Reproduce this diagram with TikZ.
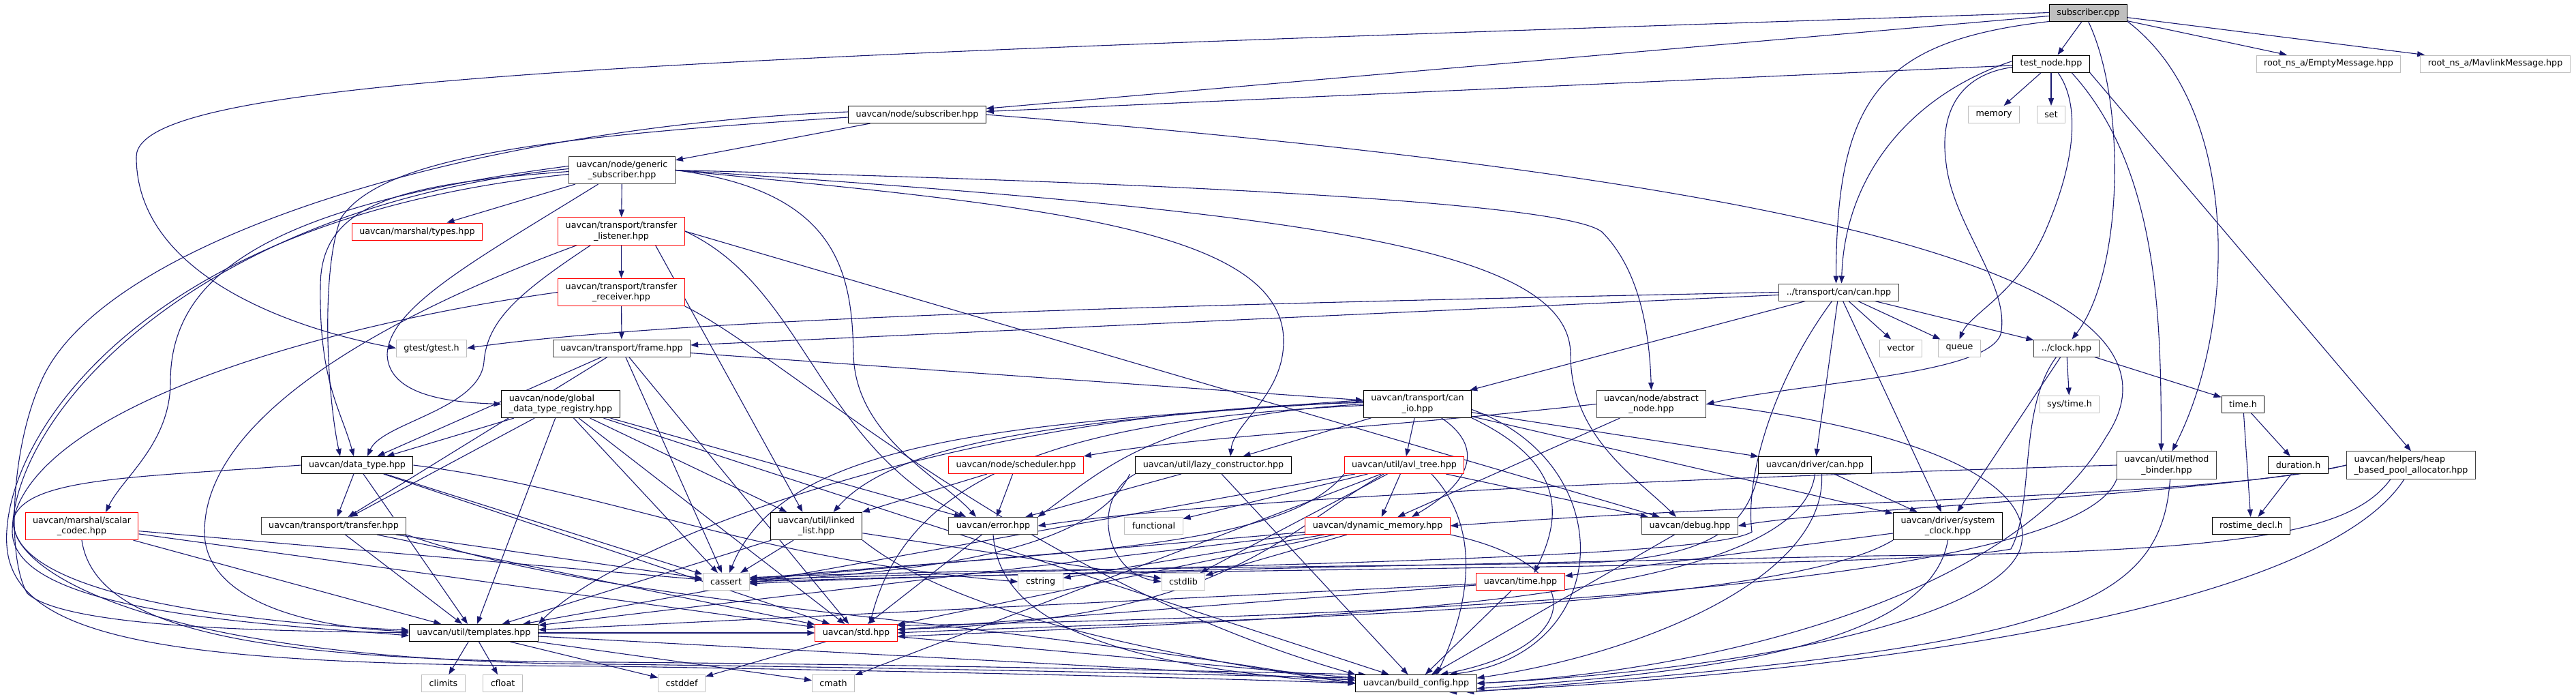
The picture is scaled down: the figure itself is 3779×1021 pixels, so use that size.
\documentclass[tikz,border=0pt]{standalone}
\usepackage{fontspec}
\setmainfont{DejaVu Sans}
\usetikzlibrary{arrows.meta}
\definecolor{edgeblue}{HTML}{191970}
\definecolor{docframe}{HTML}{404040}
\definecolor{extframe}{HTML}{BFBFBF}
\pgfdeclarelayer{background}
\pgfsetlayers{background,main}

\begin{document}
\begin{tikzpicture}[x=1pt, y=-1pt,
    file/.style={rectangle, draw=black, fill=white, line width=1pt, inner xsep=11pt, inner ysep=6pt, minimum height=25pt, align=center, font=\fontsize{12.7}{15.5}\selectfont},
    docfile/.style={file, draw=docframe},
    cutfile/.style={file, draw=red},
    sysfile/.style={file, draw=extframe},
    rootfile/.style={file, fill=extframe},
    arrow/.style={-{Triangle[length=11pt, width=8pt]}, draw=edgeblue, line width=1.1pt}
]
\useasboundingbox (0,0) rectangle (3779,1021);

% files
\node[rootfile] (cpp) at (3063.5,18.5) {subscriber.cpp};
\node[file] (testnode) at (3009,93.5) {test\_node.hpp};
\node[sysfile] (emptymsg) at (3416,93.5) {root\_ns\_a/EmptyMessage.hpp};
\node[sysfile] (mavlinkmsg) at (3660.5,93.5) {root\_ns\_a/MavlinkMessage.hpp};
\node[sysfile] (memory) at (2925,168) {memory};
\node[sysfile] (set) at (3009,168) {set};
\node[file] (subhpp) at (1345.5,168) {uavcan/node/subscriber.hpp};
\node[docfile] (gensub) at (912.5,249.5) {uavcan/node/generic\\\_subscriber.hpp};
\node[cutfile] (types) at (612,339.5) {uavcan/marshal/types.hpp};
\node[cutfile] (listener) at (911.5,339) {uavcan/transport/transfer\\\_listener.hpp};
\node[cutfile] (receiver) at (911.5,428.5) {uavcan/transport/transfer\\\_receiver.hpp};
\node[docfile] (frame) at (912,510.5) {uavcan/transport/frame.hpp};
\node[sysfile] (gtest) at (633,510.5) {gtest/gtest.h};
\node[docfile] (canhpp) at (2697.5,428.5) {../transport/can/can.hpp};
\node[sysfile] (vector) at (2788.5,510.5) {vector};
\node[sysfile] (queue) at (2874.5,510.5) {queue};
\node[docfile] (clock) at (3031.5,510.5) {../clock.hpp};
\node[sysfile] (systime) at (3036,592.5) {sys/time.h};
\node[file] (timeh) at (3290.5,592.5) {time.h};
\node[file] (duration) at (3371.5,682) {duration.h};
\node[file] (rostime) at (3302.5,771) {rostime\_decl.h};
\node[docfile] (methodbinder) at (3178.5,682) {uavcan/util/method\\\_binder.hpp};
\node[docfile, align=left] (heapalloc) at (3537,682) {uavcan/helpers/heap\\\_based\_pool\_allocator.hpp};
\node[file] (sysclock) at (2857.5,771.5) {uavcan/driver/system\\\_clock.hpp};
\node[file, align=left] (globalreg) at (822.5,592.5) {uavcan/node/global\\\_data\_type\_registry.hpp};
\node[file] (datatype) at (524,682) {uavcan/data\_type.hpp};
\node[cutfile] (scalarcodec) at (120,771.5) {uavcan/marshal/scalar\\\_codec.hpp};
\node[docfile] (transfer) at (489.5,771) {uavcan/transport/transfer.hpp};
\node[file] (templates) at (695,928) {uavcan/util/templates.hpp};
\node[sysfile] (climits) at (650.5,1002) {climits};
\node[sysfile] (cfloat) at (737.5,1002) {cfloat};
\node[file] (linkedlist) at (1197.5,771.5) {uavcan/util/linked\\\_list.hpp};
\node[docfile] (error) at (1457,771) {uavcan/error.hpp};
\node[cutfile] (scheduler) at (1490.5,682) {uavcan/node/scheduler.hpp};
\node[file] (lazyctor) at (1780,682) {uavcan/util/lazy\_constructor.hpp};
\node[sysfile] (functional) at (1692.5,771) {functional};
\node[sysfile] (cassert) at (1065,853) {cassert};
\node[sysfile] (cstring) at (1526.5,853) {cstring};
\node[sysfile] (cstdlib) at (1736,853) {cstdlib};
\node[cutfile] (std) at (1256,928) {uavcan/std.hpp};
\node[sysfile] (cstddef) at (1000,1002) {cstddef};
\node[sysfile] (cmath) at (1222.5,1002) {cmath};
\node[file] (canio) at (2079.5,592.5) {uavcan/transport/can\\\_io.hpp};
\node[docfile] (abstractnode) at (2422.5,592.5) {uavcan/node/abstract\\\_node.hpp};
\node[cutfile] (avltree) at (2060,682) {uavcan/util/avl\_tree.hpp};
\node[file] (drivercan) at (2662.5,682) {uavcan/driver/can.hpp};
\node[cutfile] (dynmem) at (2021,771) {uavcan/dynamic\_memory.hpp};
\node[docfile] (debug) at (2479,771) {uavcan/debug.hpp};
\node[cutfile] (timehpp) at (2230.5,853) {uavcan/time.hpp};
\node[file] (buildcfg) at (2077.5,1002) {uavcan/build\_config.hpp};

\begin{pgfonlayer}{background}
% subscriber.cpp
\draw[arrow] (cpp.west) .. controls (1000,85) and (200,110) .. (200,230) .. controls (200,400) and (420,480) .. (gtest.west);
\draw[arrow] (cpp) -- (subhpp);
\draw[arrow] (cpp.south west) .. controls (2760,60) and (2694,140) .. ([xshift=-4pt]canhpp.north);
\draw[arrow] (cpp) -- (testnode);
\draw[arrow] (cpp.south) .. controls (3120,150) and (3115,400) .. ([xshift=8pt]clock.north);
\draw[arrow] (cpp.south east) .. controls (3290,160) and (3280,480) .. ([xshift=8pt]methodbinder.north);
\draw[arrow] (cpp) -- (emptymsg);
\draw[arrow] (cpp) -- (mavlinkmsg);

% test_node.hpp
\draw[arrow] (testnode) -- (subhpp);
\draw[arrow] ([yshift=4pt]testnode.west) .. controls (2800,140) and (2706,260) .. ([xshift=4pt]canhpp.north);
\draw[arrow] ([yshift=-5pt]testnode.west) .. controls (2870,110) and (2845,170) .. (2855,240) .. controls (2865,330) and (2950,420) .. (2935,490) .. controls (2915,550) and (2650,560) .. (abstractnode.east);
\draw[arrow] (testnode) -- (memory);
\draw[arrow] (testnode) -- (set);
\draw[arrow] ([xshift=10pt]testnode.south) .. controls (3050,150) and (3048,230) .. (3000,340) .. controls (2960,430) and (2890,460) .. (queue.north);
\draw[arrow] ([xshift=30pt]testnode.south) .. controls (3170,250) and (3170,480) .. ([xshift=-8pt]methodbinder.north);
\draw[arrow] (testnode.south east) -- (heapalloc.north);

% uavcan/node/subscriber.hpp
\draw[arrow] (subhpp) -- (gensub);
\draw[arrow] (subhpp.east) .. controls (2600,260) and (3250,400) .. (3090,640) .. controls (2950,880) and (2500,985) .. (buildcfg.east);
\draw[arrow] ([yshift=4pt]subhpp.west) .. controls (700,185) and (150,350) .. (60,560) .. controls (15,660) and (10,820) .. (40,870) .. controls (100,925) and (450,925) .. (templates.west);
\draw[arrow] ([yshift=-4pt]subhpp.west) .. controls (800,200) and (560,230) .. (500,320) .. controls (470,400) and (480,580) .. ([xshift=-25pt]datatype.north);

% uavcan/node/generic_subscriber.hpp
\draw[arrow] (gensub) -- (types);
\draw[arrow] (gensub) -- (listener);
\draw[arrow] ([yshift=6pt]gensub.west) .. controls (400,300) and (250,400) .. (250,560) .. controls (250,650) and (180,700) .. ([xshift=35pt]scalarcodec.north);
\draw[arrow] ([yshift=-2pt]gensub.west) .. controls (580,270) and (470,300) .. (470,420) .. controls (468,560) and (500,600) .. ([xshift=-5pt]datatype.north);
\draw[arrow] ([xshift=-35pt]gensub.south) .. controls (700,380) and (570,450) .. (568,520) .. controls (570,580) and (660,590) .. (globalreg.west);
\draw[arrow] ([yshift=2pt]gensub.west) .. controls (300,300) and (20,600) .. (18,780) .. controls (20,900) and (400,915) .. ([yshift=-4pt]templates.west);
\draw[arrow] ([yshift=-6pt]gensub.west) .. controls (200,320) and (0,650) .. (10,800) .. controls (20,950) and (300,975) .. (900,977) .. controls (1400,985) and (1800,995) .. (buildcfg.west);
\draw[arrow] (gensub.east) .. controls (1230,280) and (1250,400) .. (1252,520) .. controls (1255,640) and (1380,700) .. ([xshift=-25pt]error.north);
\draw[arrow] (gensub.east) .. controls (1500,300) and (1883,330) .. (1883,500) .. controls (1883,580) and (1810,620) .. ([xshift=25pt]lazyctor.north);
\draw[arrow] (gensub.east) .. controls (1800,270) and (2300,300) .. (2350,340) .. controls (2410,400) and (2420,500) .. (abstractnode.north);
\draw[arrow] (gensub.east) .. controls (1900,310) and (2304,360) .. (2304,520) .. controls (2304,640) and (2400,700) .. ([xshift=-20pt]debug.north);

% uavcan/transport/transfer_listener.hpp
\draw[arrow] (listener) -- (receiver);
\draw[arrow] (listener.east) .. controls (1180,420) and (1200,650) .. ([xshift=-40pt]error.north);
\draw[arrow] ([xshift=50pt]listener.south) -- ([xshift=-20pt]linkedlist.north);
\draw[arrow] (listener.east) -- (debug);
\draw[arrow] ([xshift=-45pt]listener.south) .. controls (760,430) and (715,470) .. (710,530) .. controls (705,600) and (560,620) .. ([xshift=15pt]datatype.north);
\draw[arrow] ([xshift=-65pt]listener.south) .. controls (600,450) and (300,600) .. (300,780) .. controls (300,880) and (450,920) .. ([yshift=2pt]templates.west);

% uavcan/transport/transfer_receiver.hpp
\draw[arrow] (receiver) -- (frame);
\draw[arrow] (receiver.south east) .. controls (1150,520) and (1500,850) .. (buildcfg.north west);
\draw[arrow] (receiver.west) .. controls (450,480) and (60,600) .. (20,760) .. controls (10,880) and (400,915) .. ([yshift=4pt]templates.west);

% uavcan/transport/frame.hpp
\draw[arrow] (frame) -- (transfer);
\draw[arrow] (frame) -- (datatype);
\draw[arrow] (frame) -- (canio);
\draw[arrow] (frame) -- (cassert);
\draw[arrow] (frame) -- (std);

% ../transport/can/can.hpp
\draw[arrow] (canhpp.west) .. controls (1800,445) and (1000,465) .. (gtest.east);
\draw[arrow] (canhpp) -- (frame);
\draw[arrow] (canhpp) -- (canio);
\draw[arrow] ([xshift=-10pt]canhpp.south) .. controls (2600,560) and (2560,700) .. (2570,780) .. controls (2500,820) and (1800,828) .. (cassert.5);
\draw[arrow] (canhpp) -- (drivercan);
\draw[arrow] (canhpp) -- (sysclock);
\draw[arrow] (canhpp) -- (vector);
\draw[arrow] (canhpp) -- (queue);
\draw[arrow] (canhpp) -- (clock);

% ../clock.hpp
\draw[arrow] (clock) -- (systime);
\draw[arrow] (clock) -- (timeh);
\draw[arrow] (clock) -- (sysclock);
\draw[arrow] ([xshift=-15pt]clock.south) .. controls (2960,600) and (2985,740) .. (2950,805) .. controls (2800,835) and (1800,830) .. (cassert.east);

% time.h
\draw[arrow] (timeh) -- (duration);
\draw[arrow] (timeh) -- (rostime);
\draw[arrow] (duration) -- (rostime);

% uavcan/util/method_binder.hpp
\draw[arrow] (methodbinder.west) .. controls (2500,700) and (1800,730) .. (error.east);
\draw[arrow] (methodbinder.south west) .. controls (3050,850) and (2200,900) .. (std.10);
\draw[arrow] ([xshift=5pt]methodbinder.south) .. controls (3170,900) and (3000,950) .. (buildcfg.-10);

% uavcan/helpers/heap_based_pool_allocator.hpp
\draw[arrow] (heapalloc.west) .. controls (3250,730) and (2600,735) .. (dynmem.east);
\draw[arrow] (heapalloc.west) .. controls (3250,725) and (2700,745) .. (debug.east);
\draw[arrow] ([xshift=-30pt]heapalloc.south) .. controls (3450,780) and (3300,810) .. (2750,815) .. controls (2000,830) and (1300,845) .. (cassert.-5);
\draw[arrow] ([xshift=-10pt]heapalloc.south) .. controls (3400,900) and (2700,990) .. (buildcfg.-15);

% uavcan/driver/system_clock.hpp
\draw[arrow] (sysclock) -- (timehpp);
\draw[arrow] (sysclock.south west) .. controls (2600,900) and (1700,910) .. (std.east);
\draw[arrow] (sysclock.south) .. controls (2830,950) and (2500,985) .. (buildcfg.-5);

% uavcan/driver/can.hpp
\draw[arrow] (drivercan) -- (sysclock);
\draw[arrow] (drivercan.south west) .. controls (2560,780) and (2500,822) .. (2300,826) .. controls (1800,832) and (1300,838) .. (cassert.10);
\draw[arrow] (drivercan.south) .. controls (2640,880) and (2000,905) .. (std.-5);
\draw[arrow] ([xshift=10pt]drivercan.south) .. controls (2680,850) and (2400,960) .. (buildcfg.5);

% uavcan/transport/can_io.hpp
\draw[arrow] ([yshift=6pt]canio.west) .. controls (1600,615) and (1320,640) .. ([xshift=25pt]linkedlist.north);
\draw[arrow] ([yshift=4pt]canio.west) .. controls (1500,620) and (1150,640) .. ([xshift=5pt]cassert.north);
\draw[arrow] (canio.west) .. controls (1700,610) and (1630,680) .. (error.north east);
\draw[arrow] ([yshift=2pt]canio.west) .. controls (1400,600) and (900,800) .. (templates.north east);
\draw[arrow] ([yshift=-2pt]canio.west) .. controls (1550,615) and (1330,700) .. ([xshift=20pt]std.north);
\draw[arrow] (canio) -- (lazyctor);
\draw[arrow] (canio) -- (avltree);
\draw[arrow] ([xshift=35pt]canio.south) .. controls (2170,650) and (2170,700) .. ([xshift=50pt]dynmem.north);
\draw[arrow] (canio.south east) .. controls (2300,680) and (2290,760) .. ([xshift=20pt]timehpp.north);
\draw[arrow] ([yshift=-8pt]canio.east) .. controls (2380,680) and (2370,960) .. (buildcfg.15);
\draw[arrow] (canio) -- (drivercan);
\draw[arrow] (canio) -- (sysclock);

% uavcan/node/abstract_node.hpp
\draw[arrow] (abstractnode.west) .. controls (2000,630) and (1750,640) .. (scheduler.north east);
\draw[arrow] (abstractnode) -- (dynmem);
\draw[arrow] (abstractnode.east) .. controls (2750,620) and (2990,690) .. (2965,800) .. controls (2940,900) and (2600,980) .. (buildcfg.0);

% uavcan/node/scheduler.hpp
\draw[arrow] (scheduler) -- (linkedlist);
\draw[arrow] (scheduler) -- (error);

% uavcan/util/lazy_constructor.hpp
\draw[arrow] (lazyctor.south west) .. controls (1600,730) and (1620,840) .. (cstdlib.west);
\draw[arrow] ([xshift=-8pt]lazyctor.south west) .. controls (1600,820) and (1300,840) .. (cassert.east);
\draw[arrow] (lazyctor) -- (error);
\draw[arrow] (lazyctor) -- (buildcfg);

% uavcan/util/avl_tree.hpp
\draw[arrow] (avltree) -- (functional);
\draw[arrow] (avltree) -- (dynmem);
\draw[arrow] (avltree) -- (debug);
\draw[arrow] (avltree.south west) .. controls (1880,812) and (1500,810) .. ([yshift=4pt]cassert.east);
\draw[arrow] (avltree) -- (cstdlib);
\draw[arrow] ([xshift=-30pt]avltree.south) .. controls (1880,780) and (1800,910) .. (std.5);
\draw[arrow] (avltree) -- (templates);
\draw[arrow] ([xshift=40pt]avltree.south) .. controls (2180,780) and (2150,900) .. ([xshift=30pt]buildcfg.north);
\draw[arrow] (avltree) -- (cmath);

% uavcan/node/global_data_type_registry.hpp
\draw[arrow] (globalreg) -- (datatype);
\draw[arrow] (globalreg) -- (transfer);
\draw[arrow] (globalreg) -- (linkedlist);
\draw[arrow] (globalreg) -- (error);
\draw[arrow] (globalreg) -- (cassert);
\draw[arrow] (globalreg) -- (std);
\draw[arrow] (globalreg) -- (buildcfg);
\draw[arrow] (globalreg) -- (templates);

% uavcan/data_type.hpp
\draw[arrow] (datatype) -- (transfer);
\draw[arrow] (datatype) -- (cassert);
\draw[arrow] (datatype.east) .. controls (900,720) and (1100,820) .. (cstring.west);
\draw[arrow] (datatype) -- (std);
\draw[arrow] (datatype) -- (templates);
\draw[arrow] (datatype.west) .. controls (200,700) and (40,700) .. (20,760) .. controls (8,830) and (200,972) .. (900,974) .. controls (1400,980) and (1800,990) .. (buildcfg.175);

% uavcan/transport/transfer.hpp
\draw[arrow] (transfer) -- (cassert);
\draw[arrow] (transfer) -- (std);
\draw[arrow] (transfer) -- (templates);
\draw[arrow] (transfer.south east) .. controls (900,890) and (1400,900) .. (buildcfg.west);

% uavcan/marshal/scalar_codec.hpp
\draw[arrow] (scalarcodec) -- (templates);
\draw[arrow] (scalarcodec) -- (std);
\draw[arrow] (scalarcodec.south) .. controls (140,930) and (400,970) .. (900,971) .. controls (1400,975) and (1800,985) .. (buildcfg.170);
\draw[arrow] (scalarcodec) -- (cassert);

% uavcan/util/linked_list.hpp
\draw[arrow] (linkedlist) -- (cassert);
\draw[arrow] (linkedlist) -- (templates);
\draw[arrow] (linkedlist.south east) .. controls (1400,900) and (1700,960) .. (buildcfg.west);
\draw[arrow] (linkedlist) -- (cstdlib);

% uavcan/dynamic_memory.hpp
\draw[arrow] (dynmem) -- (cassert);
\draw[arrow] (dynmem) -- (cstdlib);
\draw[arrow] (dynmem) -- (cstring);
\draw[arrow] (dynmem) -- (std);
\draw[arrow] (dynmem) -- (templates);
\draw[arrow] (dynmem.south east) .. controls (2340,830) and (2320,950) .. (buildcfg.20);

% uavcan/error.hpp
\draw[arrow] (error) -- (std);
\draw[arrow] (error.south) .. controls (1465,900) and (1600,975) .. (buildcfg.west);

% uavcan/util/templates.hpp
\draw[arrow] (templates) -- (climits);
\draw[arrow] (templates) -- (cfloat);
\draw[arrow] (templates) -- (cstddef);
\draw[arrow] (templates) -- (cmath);
\draw[arrow] (templates) -- (std);
\draw[arrow] (templates) -- (buildcfg);

% uavcan/std.hpp, uavcan/debug.hpp, uavcan/time.hpp
\draw[arrow] (std) -- (cstddef);
\draw[arrow] (std) -- (buildcfg);
\draw[arrow] (debug) -- (buildcfg);
\draw[arrow] (timehpp) -- (std);
\draw[arrow] (timehpp) -- (templates);
\draw[arrow] (timehpp) -- (buildcfg);
\end{pgfonlayer}
\end{tikzpicture}
\end{document}
